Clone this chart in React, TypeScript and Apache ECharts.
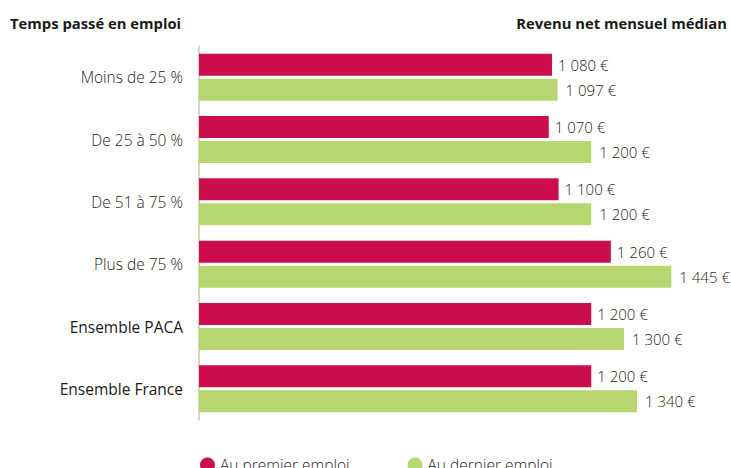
import React, { useEffect, useRef } from "react";
import * as echarts from "echarts";

const categories = [
  "Moins de 25 %",
  "De 25 à 50 %",
  "De 51 à 75 %",
  "Plus de 75 %",
  "Ensemble PACA",
  "Ensemble France",
];
const premierEmploi = [1080, 1070, 1100, 1260, 1200, 1200];
const dernierEmploi = [1097, 1200, 1200, 1445, 1300, 1340];
const seriesNames = ["Au premier emploi", "Au dernier emploi"];
const titleLeft = "Temps passé en emploi";
const titleRight = "Revenu net mensuel médian";

const FONT = "'Open Sans', 'Noto Sans', sans-serif";

function fmt(v: number): string {
  const th = Math.floor(v / 1000);
  const rest = v % 1000;
  return th > 0 ? `${th} ${String(rest).padStart(3, "0")} €` : `${rest} €`;
}

export default function App() {
  const ref = useRef<HTMLDivElement>(null);
  useEffect(() => {
    if (!ref.current) return;
    const chart = echarts.init(ref.current, undefined, { renderer: "svg" });
    const label = {
      show: true,
      position: "right" as const,
      distance: 6,
      formatter: (p: any) => fmt(p.value),
      fontFamily: FONT,
      fontSize: 15,
      fontWeight: 300 as any,
      color: "#1e1e1e",
    };
    chart.setOption({
      animation: false,
      backgroundColor: "#ffffff",
      graphic: [
        {
          type: "text",
          left: 10,
          top: 15,
          style: {
            text: titleLeft,
            font: `bold 14.8px ${FONT}`,
            fill: "#1a1a1a",
          },
        },
        {
          type: "text",
          right: 4,
          top: 15,
          style: {
            text: titleRight,
            font: `bold 14.8px ${FONT}`,
            fill: "#1a1a1a",
          },
        },
      ],
      legend: {
        data: seriesNames,
        left: 195,
        top: 452,
        icon: "circle",
        itemWidth: 15,
        itemHeight: 15,
        itemGap: 58,
        textStyle: {
          fontFamily: FONT,
          fontSize: 15.5,
          fontWeight: 300 as any,
          color: "#1e1e1e",
        },
      },
      grid: { left: 199, right: 9, top: 46, bottom: 48, containLabel: false },
      xAxis: {
        type: "value",
        min: 0,
        max: 1600,
        show: false,
      },
      yAxis: {
        type: "category",
        data: categories,
        inverse: true,
        axisLine: { show: true, lineStyle: { color: "#cdc6a8", width: 1.5 } },
        axisTick: { show: false },
        axisLabel: {
          margin: 16,
          formatter: (v: string) =>
            v.startsWith("Ensemble") ? `{b|${v}}` : `{n|${v}}`,
          rich: {
            n: {
              fontFamily: FONT,
              fontSize: 15.5,
              fontWeight: 300,
              color: "#1e1e1e",
            },
            b: {
              fontFamily: FONT,
              fontSize: 15.5,
              fontWeight: 400,
              color: "#1a1a1a",
            },
          },
        },
      },
      series: [
        {
          name: seriesNames[0],
          type: "bar",
          data: premierEmploi,
          barWidth: 22,
          barGap: "14%",
          barCategoryGap: "24%",
          itemStyle: { color: "#CC0E4C" },
          label,
        },
        {
          name: seriesNames[1],
          type: "bar",
          data: dernierEmploi,
          barWidth: 22,
          itemStyle: { color: "#B6D670" },
          label: { ...label, distance: 8 },
        },
      ],
    });
    return () => chart.dispose();
  }, []);
  return (
    <div
      ref={ref}
      style={{ position: "fixed", left: 0, top: 0, width: 731, height: 468 }}
    />
  );
}
